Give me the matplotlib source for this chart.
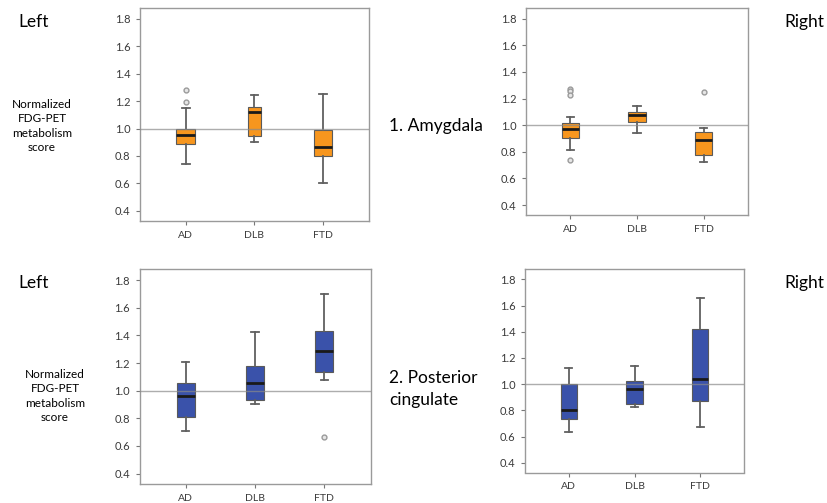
import matplotlib.pyplot as plt

plt.rcParams['font.family'] = ['Lato', 'DejaVu Sans']

groups = ['AD', 'DLB', 'FTD']

# 1. Amygdala - left
amy_l_lo = [0.74, 0.90, 0.60]
amy_l_q1 = [0.885, 0.946, 0.80]
amy_l_med = [0.956, 1.12, 0.865]
amy_l_q3 = [0.997, 1.154, 0.988]
amy_l_hi = [1.15, 1.244, 1.25]
amy_l_out = [[1.28, 1.195], [], []]

# 1. Amygdala - right
amy_r_lo = [0.81, 0.942, 0.723]
amy_r_q1 = [0.907, 1.023, 0.774]
amy_r_med = [0.972, 1.073, 0.889]
amy_r_q3 = [1.013, 1.098, 0.945]
amy_r_hi = [1.058, 1.146, 0.977]
amy_r_out = [[1.27, 1.26, 1.224, 0.741], [], [1.247]]

# 2. Posterior cingulate - left
pcc_l_lo = [0.705, 0.906, 1.077]
pcc_l_q1 = [0.813, 0.935, 1.132]
pcc_l_med = [0.964, 1.056, 1.29]
pcc_l_q3 = [1.058, 1.175, 1.429]
pcc_l_hi = [1.209, 1.424, 1.696]
pcc_l_out = [[], [], [0.662]]

# 2. Posterior cingulate - right
pcc_r_lo = [0.634, 0.822, 0.674]
pcc_r_q1 = [0.73, 0.845, 0.87]
pcc_r_med = [0.80, 0.96, 1.036]
pcc_r_q3 = [1.005, 1.025, 1.422]
pcc_r_hi = [1.127, 1.137, 1.662]
pcc_r_out = [[], [], []]

yticks = [0.4, 0.6, 0.8, 1.0, 1.2, 1.4, 1.6, 1.8]

W, H = 827, 503
fig = plt.figure(figsize=(W / 100, H / 100), dpi=100)


def px_axes(left, right, top, bottom):
    return fig.add_axes([left / W, 1 - bottom / H, (right - left) / W, (bottom - top) / H])


def draw(ax, lo, q1, med, q3, hi, out, color, widths):
    stats = []
    for i, g in enumerate(groups):
        stats.append(dict(label=g, whislo=lo[i], q1=q1[i], med=med[i],
                          q3=q3[i], whishi=hi[i], fliers=out[i]))
    ax.bxp(stats, positions=[1, 2, 3], widths=widths, patch_artist=True,
           capwidths=0.11,
           boxprops=dict(facecolor=color, edgecolor='#5a5a5a', linewidth=0.8),
           medianprops=dict(color='#1a1a1a', linewidth=2.0),
           whiskerprops=dict(color='#606060', linewidth=1.3),
           capprops=dict(color='#606060', linewidth=1.3),
           flierprops=dict(marker='o', markerfacecolor='#e6e6e6',
                           markeredgecolor='#9a9a9a', markersize=3.5,
                           markeredgewidth=1.0))
    ax.axhline(1.0, color='#8a8a8a', lw=1.0, alpha=0.7, zorder=5)
    ax.set_xlim(0.335, 3.665)
    ax.set_ylim(0.325, 1.88)
    ax.set_yticks(yticks)
    ax.set_yticklabels(['%.1f' % v for v in yticks])
    ax.set_xticks([1, 2, 3])
    ax.set_xticklabels(groups)
    ax.tick_params(length=3, width=0.8, color='#777777', labelsize=8,
                   labelcolor='#3a3a3a', pad=4)
    ax.tick_params(axis='x', labelsize=7.5)
    for s in ax.spines.values():
        s.set_color('#9a9a9a')
        s.set_linewidth(1.0)


orange = '#f7961e'
blue = '#3a52aa'

ax1 = px_axes(140, 369, 8, 221)
draw(ax1, amy_l_lo, amy_l_q1, amy_l_med, amy_l_q3, amy_l_hi, amy_l_out,
     orange, [0.27, 0.19, 0.26])
ax2 = px_axes(526, 748, 8, 215)
draw(ax2, amy_r_lo, amy_r_q1, amy_r_med, amy_r_q3, amy_r_hi, amy_r_out,
     orange, 0.26)
ax3 = px_axes(139.5, 370.5, 269, 484)
draw(ax3, pcc_l_lo, pcc_l_q1, pcc_l_med, pcc_l_q3, pcc_l_hi, pcc_l_out,
     blue, 0.26)
ax4 = px_axes(525, 744, 269, 472.5)
draw(ax4, pcc_r_lo, pcc_r_q1, pcc_r_med, pcc_r_q3, pcc_r_hi, pcc_r_out,
     blue, 0.25)


def ftext(x, y, s, **kw):
    fig.text(x / W, 1 - y / H, s, **kw)


ylabel = 'Normalized\nFDG-PET\nmetabolism\nscore'
ftext(18, 22, 'Left', fontsize=12.5, va='center', ha='left')
ftext(784, 22, 'Right', fontsize=12.5, va='center', ha='left')
ftext(18, 283, 'Left', fontsize=12.5, va='center', ha='left')
ftext(784, 283, 'Right', fontsize=12.5, va='center', ha='left')
ftext(42, 126, ylabel, fontsize=8.5, va='center', ha='center', linespacing=1.38)
ftext(55, 396, ylabel, fontsize=8.5, va='center', ha='center', linespacing=1.38)
ftext(389, 126, '1. Amygdala', fontsize=12.5, va='center', ha='left')
ftext(389, 389, '2. Posterior\ncingulate', fontsize=12.5, va='center', ha='left',
      linespacing=1.4)

fig.savefig('out.png', dpi=100)
